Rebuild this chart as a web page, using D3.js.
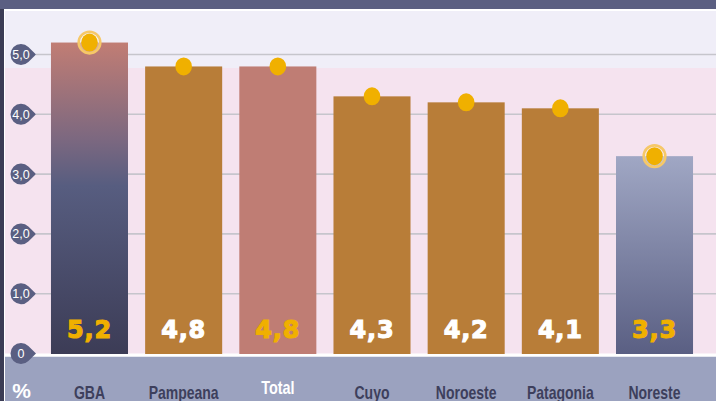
<!DOCTYPE html>
<html>
<head>
<meta charset="utf-8">
<script src="https://cdn.jsdelivr.net/npm/d3@7"></script>
<style>
  body { margin: 0; background: #fff; }
  svg { display: block; }
</style>
</head>
<body>
<script>
// data
const regions = ['GBA', 'Pampeana', 'Total', 'Cuyo', 'Noroeste', 'Patagonia', 'Noreste']
const values = [5.2, 4.8, 4.8, 4.3, 4.2, 4.1, 3.3]
const valueLabels = ['5,2', '4,8', '4,8', '4,3', '4,2', '4,1', '3,3']
const tickValues = [0, 1, 2, 3, 4, 5]
const tickLabels = ['0', '1,0', '2,0', '3,0', '4,0', '5,0']
const highlighted = ['GBA', 'Noreste']

const W = 716, H = 401
const ORANGE = '#b87d38', YELLOW = '#f0b000'
const fills = {
  GBA: 'url(#gGBA)', Pampeana: ORANGE, Total: '#bf7d74', Cuyo: ORANGE,
  Noroeste: ORANGE, Patagonia: ORANGE, Noreste: 'url(#gNE)'
}
const labelColor = { GBA: YELLOW, Total: YELLOW, Noreste: YELLOW }

const svg = d3.select('body').append('svg')
  .attr('width', W).attr('height', H)

const defs = svg.append('defs')
const grad = (id, stops) => {
  const g = defs.append('linearGradient').attr('id', id)
    .attr('x1', 0).attr('y1', 0).attr('x2', 0).attr('y2', 1)
  stops.forEach(s => g.append('stop').attr('offset', s[0]).attr('stop-color', s[1]))
}
grad('gGBA', [[0, '#c17d74'], [0.31, '#7c6880'], [0.46, '#575d80'], [1, '#3c3c56']])
grad('gNE', [[0, '#a0a7c4'], [1, '#5a5f83']])

const y = d3.scaleLinear().domain([0, 5]).range([353.5, 54.5])
const x = d3.scaleBand().domain(regions)
  .range([42.4, 701.6]).paddingInner(0.182).paddingOuter(0.091)
const mid = d => x(d) + x.bandwidth() / 2

// backgrounds
svg.append('rect').attr('x', 0).attr('y', 0).attr('width', W).attr('height', H).attr('fill', '#fff')
svg.append('rect').attr('x', 5).attr('y', 11).attr('width', W).attr('height', 57).attr('fill', '#f0eef8')
svg.append('rect').attr('x', 5).attr('y', 68).attr('width', W).attr('height', y(0) - 68).attr('fill', '#f5e3ef')
svg.append('rect').attr('x', 5).attr('y', 356.5).attr('width', W).attr('height', H - 356.5).attr('fill', '#9ba2bf')
svg.append('rect').attr('x', 0).attr('y', 0).attr('width', 4).attr('height', H).attr('fill', '#3b3c55')
svg.append('rect').attr('x', 0).attr('y', 0).attr('width', W).attr('height', 9).attr('fill', '#5b5f82')

// grid
svg.append('g').selectAll('line')
  .data(tickValues.filter(d => d > 0))
  .join('line')
  .attr('x1', 36).attr('x2', W)
  .attr('y1', d => y(d)).attr('y2', d => y(d))
  .attr('stroke', '#c6c5cc').attr('stroke-width', 1.6)

// bars
svg.append('g').selectAll('rect')
  .data(regions)
  .join('rect')
  .attr('x', d => x(d))
  .attr('y', (d, i) => y(values[i]))
  .attr('width', x.bandwidth())
  .attr('height', (d, i) => y(0) - y(values[i]) + 0.5)
  .attr('fill', d => fills[d])

// baseline
svg.append('rect').attr('x', 5).attr('y', 354).attr('width', W).attr('height', 2.5).attr('fill', '#fff')

// tick markers (teardrops)
const r = 10.5, cx = 21, tip = 36
const th = Math.acos(r / (tip - cx))
const drop = 'M' + tip + ',0L' + (cx + r * Math.cos(th)) + ',' + (-r * Math.sin(th)) +
  'A' + r + ',' + r + ' 0 1 0 ' + (cx + r * Math.cos(th)) + ',' + (r * Math.sin(th)) + 'Z'
const ticks = svg.append('g').selectAll('g')
  .data(tickValues)
  .join('g')
  .attr('transform', d => 'translate(0,' + y(d) + ')')
ticks.append('path').attr('d', drop).attr('fill', '#5a5f82')
ticks.append('text')
  .attr('x', cx).attr('y', 4.5)
  .attr('text-anchor', 'middle')
  .attr('fill', '#fff')
  .style('font', '12.5px "Liberation Sans", Arial, sans-serif')
  .text((d, i) => tickLabels[i])

// dots
const dots = svg.append('g')
dots.selectAll('circle.ring')
  .data(regions.filter(d => highlighted.includes(d)))
  .join('circle')
  .attr('class', 'ring')
  .attr('cx', mid)
  .attr('cy', d => y(values[regions.indexOf(d)]))
  .attr('r', 10.8)
  .attr('fill', 'rgba(255,255,255,0.35)')
  .attr('stroke', '#f6c868').attr('stroke-width', 2.6)
dots.selectAll('ellipse')
  .data(regions)
  .join('ellipse')
  .attr('cx', mid)
  .attr('cy', (d, i) => y(values[i]))
  .attr('rx', 8.3).attr('ry', 9)
  .attr('fill', YELLOW)

// value labels
svg.append('g').selectAll('text')
  .data(regions)
  .join('text')
  .attr('x', mid)
  .attr('y', 337.5)
  .attr('text-anchor', 'middle')
  .attr('fill', d => labelColor[d] || '#fff')
  .attr('stroke', d => labelColor[d] || '#fff')
  .attr('stroke-width', 1.1)
  .style('font', 'bold 24px "DejaVu Sans", sans-serif')
  .style('letter-spacing', '0.8px')
  .text((d, i) => valueLabels[i])

// category labels (condensed)
svg.append('g').selectAll('text')
  .data(regions)
  .join('text')
  .attr('transform', d => 'translate(' + mid(d) + ',' + (d === 'Total' ? 394 : 398.5) + ') scale(0.8,1)')
  .attr('text-anchor', 'middle')
  .attr('fill', d => d === 'Total' ? '#fff' : '#3d3f5c')
  .style('font', d => 'bold ' + (d === 'Total' ? 18 : 17.5) + 'px "Liberation Sans", Arial, sans-serif')
  .text(d => d)

svg.append('text')
  .attr('x', 21.5).attr('y', 397.5)
  .attr('text-anchor', 'middle')
  .attr('fill', '#fff')
  .style('font', 'bold 21px "Liberation Sans", Arial, sans-serif')
  .text('%')
</script>
</body>
</html>
